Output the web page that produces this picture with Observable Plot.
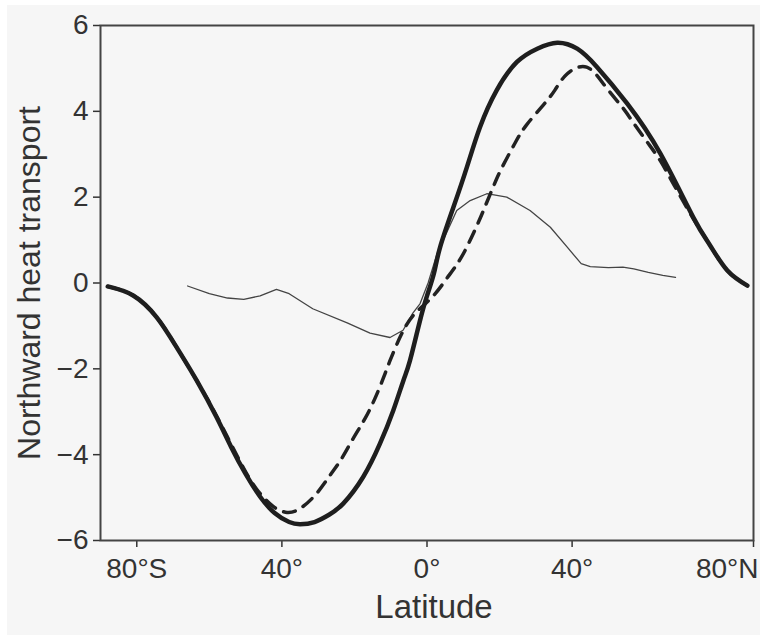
<!DOCTYPE html>
<html><head><meta charset="utf-8">
<script src="https://cdn.jsdelivr.net/npm/d3@7"></script>
<script src="https://cdn.jsdelivr.net/npm/@observablehq/plot@0.6"></script>
<style>
body{margin:0;background:#fff;}
#bg{position:absolute;left:7px;top:5px;width:753px;height:630px;background:#f6f6f6;}
#chart{position:absolute;left:0;top:0;}
</style></head><body><div id="bg"></div><div id="chart"></div>
<script>
// Thick solid curve
const solidLat = [-88,-81,-74.5,-69,-63.5,-58,-54,-50,-46,-42,-38,-35,-31,-27,-23.1,-17.6,-13,-9.3,-6.5,-4.7,-2,0,1.9,3.6,7.3,11,14.6,19.2,24.8,30.4,35.9,41.4,46.9,55.2,64.3,73.4,78,82.8,88.3];
const solidVal = [-0.08,-0.29,-0.8,-1.5,-2.27,-3.13,-3.82,-4.45,-4.98,-5.36,-5.57,-5.62,-5.57,-5.4,-5.14,-4.52,-3.75,-2.97,-2.27,-1.81,-0.9,-0.3,0.22,0.83,1.77,2.7,3.63,4.49,5.15,5.46,5.6,5.46,5.03,4.18,3.02,1.53,0.88,0.29,-0.06];
// Dashed curve
const dashLat = [-88,-81,-74.5,-69,-63.5,-58,-51.6,-47,-42.5,-39,-35.5,-30.9,-26.8,-23.6,-20.4,-17.1,-14.4,-12.1,-10.2,-6.9,-3.3,1.4,5.4,8.6,11.4,14.2,16,18.3,20.6,24.2,27.4,32.1,35.3,38.6,44,49,53.8,57,61,64.3,68,73.4,78,82.8,88.3];
const dashVal = [-0.08,-0.29,-0.8,-1.5,-2.27,-3.1,-4.15,-4.8,-5.2,-5.34,-5.28,-4.95,-4.49,-4.1,-3.63,-3.16,-2.7,-2.23,-1.81,-1.17,-0.71,-0.33,0.1,0.48,0.91,1.42,1.78,2.25,2.68,3.25,3.68,4.15,4.5,4.87,5.03,4.6,4.1,3.72,3.25,2.85,2.3,1.5,0.88,0.29,-0.06];
// Thin curve
const thinLat = [-66,-60,-55,-50.5,-46,-41.5,-38,-31.5,-22,-15.7,-10.2,-6.6,-3.9,-1.9,0.3,2.8,8.2,11.9,16.5,22,28.4,34,38.6,42.5,45,50,54,57,61,65,68.5];
const thinVal = [-0.07,-0.25,-0.35,-0.38,-0.3,-0.15,-0.25,-0.6,-0.93,-1.17,-1.27,-1.1,-0.7,-0.48,0,0.69,1.69,1.92,2.08,2.0,1.69,1.3,0.84,0.45,0.38,0.36,0.37,0.33,0.25,0.18,0.13];

const yTicks = [-6,-4,-2,0,2,4,6];
const xTickPos = [-80,-40,0,40,90];
const xLabelPos = [-80,-40,0,40];
const xLabelText = ["80°S","40°","0°","40°"];
const xLabelN = [{pos: 80, text: "80°N"}];

const solid = solidLat.map((x,i)=>({x, y: solidVal[i]}));
const dashed = dashLat.map((x,i)=>({x, y: dashVal[i]}));
const thin = thinLat.map((x,i)=>({x, y: thinVal[i]}));
const xLabels = xLabelPos.map((pos,i)=>({pos, text: xLabelText[i]}));

const chart = Plot.plot({
  width: 765, height: 637,
  marginLeft: 100, marginRight: 12, marginTop: 25, marginBottom: 97,
  style: {background: "transparent", fontFamily: "'Liberation Sans', Arial, sans-serif", color: "#333", fontSize: "28px"},
  x: {domain: [-90, 90]},
  y: {domain: [-6, 6]},
  marks: [
    Plot.axisY({ticks: yTicks, tickSize: 7, tickPadding: 5, fontSize: 28, label: null, strokeWidth: 1.5}),
    Plot.axisX({ticks: xTickPos, tickSize: 7, tickFormat: () => "", label: null, strokeWidth: 1.5}),
    Plot.text(xLabels, {x: "pos", text: "text", frameAnchor: "bottom", dy: 37, lineAnchor: "bottom", fontSize: 28}),
    Plot.text(xLabelN, {x: "pos", text: "text", frameAnchor: "bottom", dy: 37, dx: 10, lineAnchor: "bottom", fontSize: 28}),
    Plot.text(["Latitude"], {text: d => d, frameAnchor: "bottom", dy: 77, dx: 7, lineAnchor: "bottom", fontSize: 33}),
    Plot.text(["Northward heat transport"], {text: d => d, frameAnchor: "left", rotate: -90, dx: -61, textAnchor: "middle", lineAnchor: "bottom", fontSize: 32}),
    Plot.line(thin, {x: "x", y: "y", stroke: "#444", strokeWidth: 1.3, curve: "linear"}),
    Plot.line(dashed, {x: "x", y: "y", stroke: "#222", strokeWidth: 3.5, strokeDasharray: "12,9", curve: "natural"}),
    Plot.line(solid, {x: "x", y: "y", stroke: "#1e1e1e", strokeWidth: 4.5, curve: "natural"}),
    Plot.frame({stroke: "#444", strokeWidth: 2})
  ]
});
document.getElementById("chart").appendChild(chart);
</script>
</body></html>
